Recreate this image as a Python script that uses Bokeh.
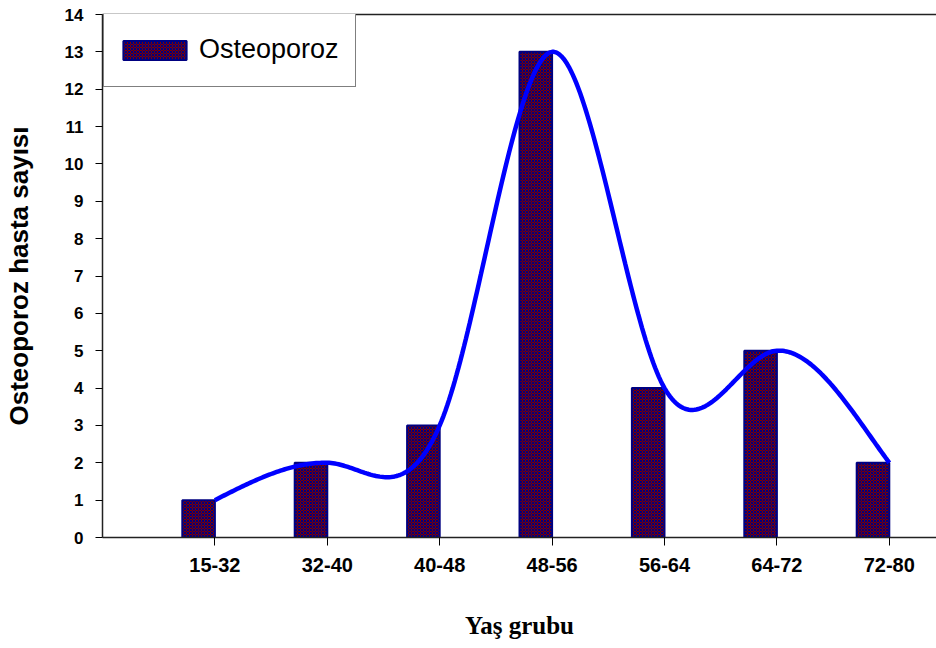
import numpy as np
from bokeh.plotting import figure
from bokeh.models import Range1d, FixedTicker, LinearAxis, Legend, LegendItem
from bokeh.embed import file_html
from bokeh.resources import INLINE

# Osteoporosis patients per age group
age_groups = ["15-32", "32-40", "40-48", "48-56", "56-64", "64-72", "72-80"]
patients = [1, 2, 3, 13, 4, 5, 2]
group_index = [1, 2, 3, 4, 5, 6, 7]
y_ticks = list(range(0, 15))

BAR_W = 0.29
BAR_FILL = "#800000"
BAR_EDGE = "#000080"
LINE_BLUE = "#0000FF"


def spline_slopes(xs, ys):
    """Node slopes of the natural cubic spline through the points."""
    n = len(xs)
    h = np.diff(xs)
    A = np.zeros((n, n))
    r = np.zeros(n)
    A[0, 0] = A[-1, -1] = 1.0
    for i in range(1, n - 1):
        A[i, i - 1] = h[i - 1]
        A[i, i] = 2 * (h[i - 1] + h[i])
        A[i, i + 1] = h[i]
        r[i] = 6 * ((ys[i + 1] - ys[i]) / h[i] - (ys[i] - ys[i - 1]) / h[i - 1])
    M = np.linalg.solve(A, r)
    d = np.diff(ys) / h
    m = np.empty(n)
    m[:-1] = d - h * (2 * M[:-1] + M[1:]) / 6
    m[-1] = d[-1] + h[-1] * (M[-2] + 2 * M[-1]) / 6
    return m


def smooth_line(xs, ys, blend=0.5, steps=60):
    """Hermite curve through the points; slopes mix spline and finite differences."""
    xs = np.asarray(xs, float)
    ys = np.asarray(ys, float)
    fd = np.gradient(ys, xs)
    m = blend * spline_slopes(xs, ys) + (1 - blend) * fd
    out_x, out_y = [], []
    n = len(xs)
    for i in range(n - 1):
        h = xs[i + 1] - xs[i]
        s = np.linspace(0, 1, steps, endpoint=(i == n - 2))
        h00 = 2 * s ** 3 - 3 * s ** 2 + 1
        h10 = s ** 3 - 2 * s ** 2 + s
        h01 = -2 * s ** 3 + 3 * s ** 2
        h11 = s ** 3 - s ** 2
        out_x.extend(xs[i] + s * h)
        out_y.extend(h00 * ys[i] + h10 * h * m[i] + h01 * ys[i + 1] + h11 * h * m[i + 1])
    return out_x, out_y


p = figure(width=936, height=648, output_backend="svg", toolbar_location=None,
           x_range=Range1d(0, 7.42), y_range=Range1d(0, 14),
           min_border_left=101, min_border_right=0, min_border_top=14,
           min_border_bottom=111)
p.outline_line_color = None
p.xgrid.visible = False
p.ygrid.visible = False

# bars sit just left of each category tick
bar_x = [g - BAR_W / 2 for g in group_index]
bars = p.vbar(x=bar_x, width=BAR_W, top=patients, bottom=0,
              fill_color=BAR_FILL, line_color=BAR_EDGE, line_width=2,
              hatch_pattern="diagonal_cross", hatch_color=BAR_EDGE,
              hatch_scale=3, hatch_weight=1)

sx, sy = smooth_line(group_index, patients)
p.line(sx, sy, line_color=LINE_BLUE, line_width=4.5)

# x axis
xa = p.xaxis[0]
xa.ticker = FixedTicker(ticks=group_index)
xa.major_label_overrides = {g: lab for g, lab in zip(group_index, age_groups)}
xa.axis_label = "Yaş grubu"
xa.axis_label_text_font = "Liberation Serif"
xa.axis_label_text_font_style = "bold"
xa.axis_label_text_font_size = "25px"
xa.axis_label_text_color = "black"
xa.axis_label_standoff = 37
xa.major_label_text_font = "Liberation Sans"
xa.major_label_text_font_style = "bold"
xa.major_label_text_font_size = "20px"
xa.major_label_text_color = "black"
xa.major_label_standoff = 12
xa.major_tick_in = 0
xa.major_tick_out = 8
xa.minor_tick_out = 0
xa.minor_tick_in = 0
xa.axis_line_width = 1.5
xa.axis_line_color = "#222222"

# y axis
ya = p.yaxis[0]
ya.ticker = FixedTicker(ticks=y_ticks)
ya.axis_label = "Osteoporoz hasta sayısı"
ya.axis_label_text_font = "Liberation Sans"
ya.axis_label_text_font_style = "bold"
ya.axis_label_text_font_size = "26px"
ya.axis_label_text_color = "black"
ya.axis_label_standoff = 28
ya.major_label_text_font = "Liberation Sans"
ya.major_label_text_font_style = "bold"
ya.major_label_text_font_size = "17px"
ya.major_label_text_color = "black"
ya.major_label_standoff = 12
ya.major_tick_in = 0
ya.major_tick_out = 7
ya.minor_tick_out = 0
ya.minor_tick_in = 0
ya.axis_line_width = 1.5
ya.axis_line_color = "#222222"

# top frame line
top = LinearAxis(ticker=FixedTicker(ticks=[]), major_label_text_font_size="0px",
                 major_tick_out=0, major_tick_in=0, minor_tick_out=0,
                 minor_tick_in=0, major_label_standoff=0,
                 axis_line_width=1.5, axis_line_color="#222222")
p.add_layout(top, "above")

legend = Legend(items=[LegendItem(label="Osteoporoz", renderers=[bars])],
                location=(1, 450), orientation="vertical",
                label_text_font="Liberation Sans", label_text_font_size="27px",
                label_text_color="black",
                glyph_width=79, glyph_height=24, label_standoff=5,
                label_width=145, label_height=51,
                padding=11, margin=0, spacing=0,
                border_line_color="black", border_line_width=1.5,
                background_fill_color="white", background_fill_alpha=1)
p.add_layout(legend)

open("out.html", "w").write(file_html(p, INLINE))
